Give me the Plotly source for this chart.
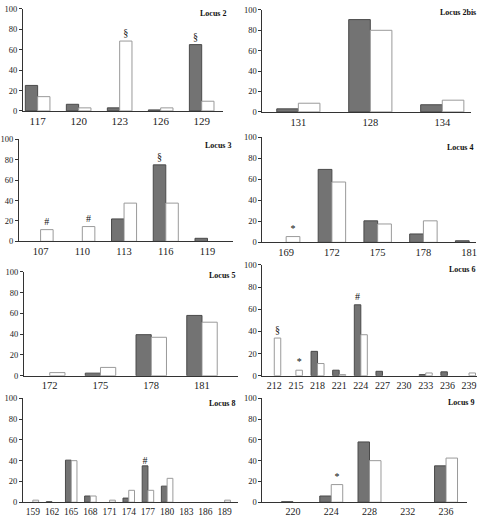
import plotly.graph_objects as go

# ---------------- data ----------------
loci = ["Locus 2", "Locus 2bis", "Locus 3", "Locus 4", "Locus 5", "Locus 6", "Locus 8", "Locus 9"]

alleles_2 = ["117", "120", "123", "126", "129"]
dark_2 = [25, 6.5, 3, 1, 65]
white_2 = [14, 3, 68.5, 3, 9.5]
dark_mark_2 = ["", "", "", "", "§"]
white_mark_2 = ["", "", "§", "", ""]

alleles_2bis = ["131", "128", "134"]
dark_2bis = [3, 90.5, 7]
white_2bis = [8.5, 80, 11.5]
dark_mark_2bis = ["", "", ""]
white_mark_2bis = ["", "", ""]

alleles_3 = ["107", "110", "113", "116", "119"]
dark_3 = [0, 0, 22, 75, 3]
white_3 = [11.5, 14.5, 37.5, 37.5, 0]
dark_mark_3 = ["", "", "", "§", ""]
white_mark_3 = ["#", "#", "", "", ""]

alleles_4 = ["169", "172", "175", "178", "181"]
dark_4 = [0, 69.5, 20.5, 8, 1.5]
white_4 = [5.5, 57.5, 17.5, 20.5, 0]
dark_mark_4 = ["", "", "", "", ""]
white_mark_4 = ["*", "", "", "", ""]

alleles_5 = ["172", "175", "178", "181"]
dark_5 = [0, 2.5, 39.5, 58]
white_5 = [3, 8, 37, 51.5]
dark_mark_5 = ["", "", "", ""]
white_mark_5 = ["", "", "", ""]

alleles_6 = ["212", "215", "218", "221", "224", "227", "230", "233", "236", "239"]
dark_6 = [0, 0, 22, 5, 64, 4, 0, 1, 3.5, 0]
white_6 = [34, 5, 11, 1, 37, 0, 0, 2.5, 0, 2.5]
dark_mark_6 = ["", "", "", "", "#", "", "", "", "", ""]
white_mark_6 = ["§", "*", "", "", "", "", "", "", "", ""]

alleles_8 = ["159", "162", "165", "168", "171", "174", "177", "180", "183", "186", "189"]
dark_8 = [0, 0.5, 40.5, 6, 0, 4, 35, 15.5, 0, 0, 0]
white_8 = [2, 0, 40, 6, 2, 11.5, 11.5, 23, 0, 0, 2]
dark_mark_8 = ["", "", "", "", "", "", "#", "", "", "", ""]
white_mark_8 = ["", "", "", "", "", "", "", "", "", "", ""]

alleles_9 = ["220", "224", "228", "232", "236"]
dark_9 = [0.5, 6, 58, 0, 35]
white_9 = [0, 17, 40, 0, 42.5]
dark_mark_9 = ["", "", "", "", ""]
white_mark_9 = ["", "*", "", "", ""]

y_ticks = [0, 20, 40, 60, 80, 100]

panels = [
    (alleles_2, dark_2, white_2, dark_mark_2, white_mark_2),
    (alleles_2bis, dark_2bis, white_2bis, dark_mark_2bis, white_mark_2bis),
    (alleles_3, dark_3, white_3, dark_mark_3, white_mark_3),
    (alleles_4, dark_4, white_4, dark_mark_4, white_mark_4),
    (alleles_5, dark_5, white_5, dark_mark_5, white_mark_5),
    (alleles_6, dark_6, white_6, dark_mark_6, white_mark_6),
    (alleles_8, dark_8, white_8, dark_mark_8, white_mark_8),
    (alleles_9, dark_9, white_9, dark_mark_9, white_mark_9),
]

# ---------------- layout geometry (pixels) ----------------
W, H = 481, 520
# x0, x1, y(100), y(0), x-range, x tick font size
boxes = [
    (21, 222, 4, 108, [-0.36, 4.51], 11),
    (262, 472, 5, 109, [-0.50, 2.40], 10.5),
    (17, 232, 137, 241, [-0.52, 4.60], 10.5),
    (262, 477, 135, 242, [-0.52, 4.15], 10.5),
    (22, 237, 272, 378, [-0.51, 3.70], 10.5),
    (262, 478, 265, 378, [-0.55, 9.37], 10),
    (21, 237, 401, 507, [-0.52, 10.67], 9.5),
    (262, 468, 401, 507, [-0.80, 4.55], 10),
]
label_pos = [(227, 9), (479, 8), (232, 143), (476, 145), (236, 276), (478, 270), (236, 406), (477, 405)]

SERIF = "Liberation Serif, Times New Roman, serif"
DARK = "#737373"
DARK_LINE = "#4a4a4a"
WHITE_LINE = "#9a9a9a"
AXIS = "#333333"

fig = go.Figure()
layout = dict(
    width=W, height=H, margin=dict(l=0, r=0, t=0, b=0),
    paper_bgcolor="white", plot_bgcolor="white",
    showlegend=False, barmode="group", bargap=0.4, bargroupgap=0,
    font=dict(family=SERIF, color="#222"),
)
annotations = []


def outline(values):
    return [1 if v > 0 else 0 for v in values]


for i, ((cats, dk, wh, dm, wm), (x0, x1, yt, yb, xr, fs)) in enumerate(zip(panels, boxes)):
    n = "" if i == 0 else str(i + 1)
    xa, ya = "x" + n, "y" + n
    common = dict(x=cats, xaxis=xa, yaxis=ya, textposition="outside",
                  constraintext="none", cliponaxis=False, hoverinfo="skip",
                  textfont=dict(family=SERIF, size=10, color="#111"))
    fig.add_trace(go.Bar(y=dk, text=dm,
                         marker=dict(color=DARK, line=dict(color=DARK_LINE, width=outline(dk))),
                         name="dark", **common))
    fig.add_trace(go.Bar(y=wh, text=wm,
                         marker=dict(color="white", line=dict(color=WHITE_LINE, width=outline(wh))),
                         name="white", **common))
    layout["xaxis" + n] = dict(
        domain=[x0 / W, x1 / W], anchor=ya, type="category", range=xr,
        showline=True, linecolor=AXIS, linewidth=1, ticks="", showgrid=False,
        zeroline=False, tickangle=0, tickfont=dict(family=SERIF, size=fs, color="#222"),
        fixedrange=True,
    )
    layout["yaxis" + n] = dict(
        domain=[1 - yb / H, 1 - yt / H], anchor=xa, range=[0, 100],
        tickvals=y_ticks, showline=True, linecolor=AXIS, linewidth=1,
        ticks="outside", ticklen=3, tickcolor=AXIS, showgrid=False, zeroline=False,
        tickfont=dict(family=SERIF, size=8.5, color="#222"), fixedrange=True,
    )
    lx, ly = label_pos[i]
    annotations.append(dict(
        text="<b>" + loci[i] + "</b>", xref="paper", yref="paper",
        x=lx / W, y=1 - ly / H, xanchor="right", yanchor="middle",
        showarrow=False, font=dict(family=SERIF, size=8, color="#111"),
    ))

layout["annotations"] = annotations
fig.update_layout(**layout)
fig.write_html(
    "out.html",
    config={"displayModeBar": False},
    post_script="document.body.style.margin='0';document.body.style.overflow='hidden';",
)
